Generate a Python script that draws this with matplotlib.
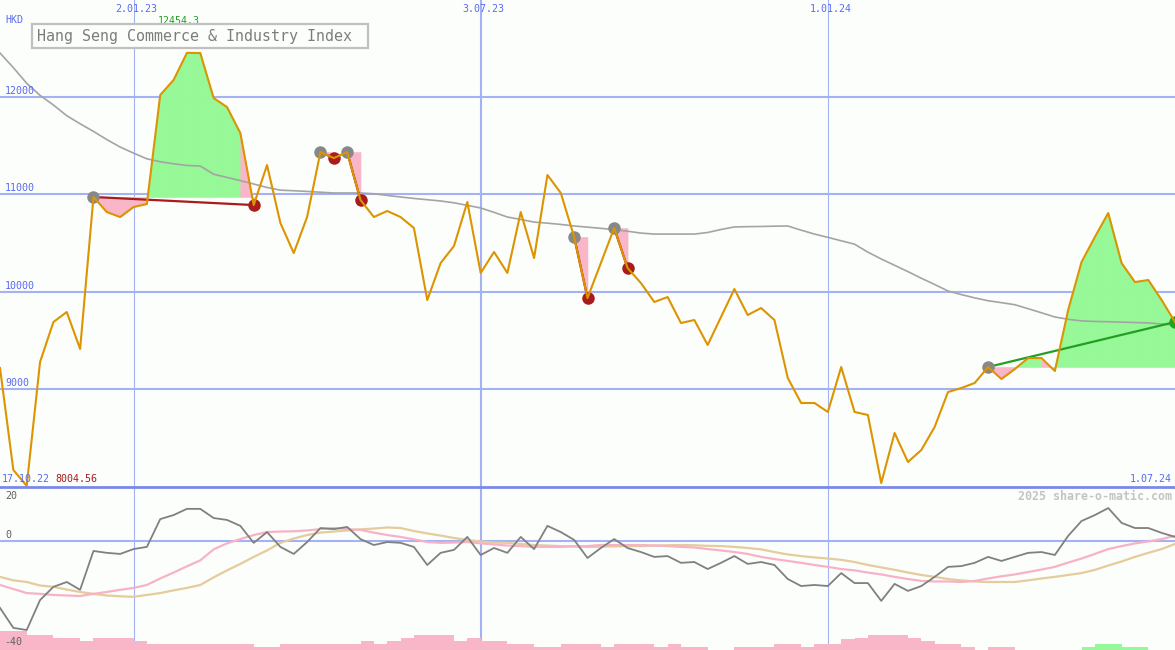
import numpy as np
import pandas as pd
import matplotlib
matplotlib.use("Agg")
from matplotlib import pyplot as plt
from matplotlib.patches import Rectangle
from matplotlib.lines import Line2D

# weekly closes, Hang Seng Commerce & Industry Index (HKD)
dates = pd.date_range("2022-10-24", periods=89, freq="7D")
close = [9216, 8168, 8005, 9277, 9688, 9791, 9411, 10973, 10818, 10767,
         10870, 10901, 12021, 12175, 12454, 12452, 11990, 11897, 11630, 10890,
         11301, 10705, 10397, 10767, 11435, 11373, 11435, 10942, 10767, 10829,
         10767, 10654, 9914, 10294, 10469, 10921, 10192, 10408, 10192, 10818,
         10346, 11199, 11014, 10562, 9935, 10294, 10654, 10243, 10089, 9894,
         9945, 9678, 9709, 9452, 9740, 10027, 9760, 9832, 9709, 9113,
         8856, 8856, 8764, 9226, 8764, 8733, 8034, 8548, 8250, 8373,
         8610, 8969, 9010, 9062, 9226, 9103, 9205, 9318, 9318, 9185,
         9812, 10305, 10562, 10808, 10294, 10099, 10120, 9914, 9688]
ma = [12452, 12302, 12141, 12017, 11918, 11808, 11725, 11647, 11563, 11486,
      11424, 11365, 11335, 11314, 11297, 11291, 11207, 11174, 11141, 11106,
      11071, 11043, 11037, 11030, 11022, 11014, 11014, 11014, 11006, 10989,
      10973, 10958, 10945, 10932, 10913, 10887, 10860, 10815, 10767, 10742,
      10715, 10704, 10691, 10675, 10663, 10651, 10637, 10621, 10602, 10592,
      10592, 10592, 10592, 10608, 10639, 10665, 10668, 10670, 10673, 10675,
      10632, 10592, 10558, 10523, 10488, 10406, 10336, 10271, 10206, 10138,
      10074, 10007, 9970, 9936, 9907, 9887, 9866, 9825, 9783, 9740,
      9716, 9700, 9694, 9691, 9687, 9683, 9679, 9668, 9657]

# trades: (entry week, exit week)
trades = [(7, 19), (24, 25), (26, 27), (43, 44), (46, 47), (74, 88)]

# lower panel oscillator
osc = [-24.8, -32.2, -33.0, -21.9, -17.0, -15.2, -18.1, -3.7, -4.4, -4.8,
       -3.0, -2.2, 8.1, 9.6, 11.9, 11.9, 8.5, 7.8, 5.6, -0.7,
       3.3, -2.2, -4.8, -0.4, 4.8, 4.4, 5.2, 0.7, -1.5, -0.4,
       -0.7, -2.2, -8.9, -4.4, -3.3, 1.5, -5.2, -2.6, -4.4, 1.5,
       -3.0, 5.6, 3.3, 0.4, -6.3, -2.6, 0.7, -2.6, -4.1, -5.9,
       -5.6, -8.1, -7.8, -10.4, -8.1, -5.6, -8.5, -7.8, -8.9, -14.1,
       -16.7, -16.3, -16.7, -11.9, -15.6, -15.6, -22.2, -15.9, -18.5, -16.7,
       -13.3, -9.6, -9.3, -8.1, -5.9, -7.4, -5.9, -4.4, -4.1, -5.2,
       1.9, 7.4, 9.6, 12.2, 6.7, 4.8, 4.8, 3.0, 1.5]
sig_fast = [-16.3, -17.8, -19.3, -19.6, -20.0, -20.2, -20.4, -19.6, -18.9, -18.1,
            -17.4, -16.3, -13.9, -11.7, -9.4, -7.2, -3.1, -0.9, 0.7, 2.2,
            3.3, 3.5, 3.6, 3.9, 4.4, 4.8, 4.4, 4.1, 3.1, 2.2,
            1.5, 0.6, -0.4, -0.7, -0.6, -0.4, -0.9, -1.3, -1.7, -1.9,
            -2.2, -2.2, -2.2, -2.0, -1.9, -1.5, -1.5, -1.5, -1.5, -1.7,
            -1.9, -2.2, -2.4, -3.0, -3.5, -4.1, -4.8, -5.9, -6.7, -7.4,
            -8.1, -8.9, -9.6, -10.4, -10.9, -11.7, -12.4, -13.3, -14.1, -14.8,
            -15.0, -15.0, -15.2, -14.8, -13.9, -13.1, -12.4, -11.5, -10.6, -9.6,
            -8.0, -6.5, -4.8, -3.0, -1.9, -0.9, -0.2, 0.7, 1.9]
sig_slow = [-13.3, -14.6, -15.2, -16.5, -17.0, -18.0, -18.9, -19.6, -20.2, -20.5,
            -20.7, -20.0, -19.3, -18.3, -17.4, -16.3, -13.5, -10.9, -8.5, -5.9,
            -3.5, -0.7, 0.9, 2.2, 3.1, 3.5, 3.9, 4.3, 4.6, 5.0,
            4.8, 3.7, 2.8, 2.0, 1.1, 0.4, -0.2, -0.6, -0.7, -1.1,
            -1.5, -1.7, -1.9, -2.0, -2.2, -2.1, -2.0, -1.9, -1.9, -1.7,
            -1.6, -1.5, -1.6, -1.8, -1.9, -2.2, -2.6, -3.1, -4.1, -5.0,
            -5.6, -6.1, -6.5, -7.0, -7.8, -8.9, -9.8, -10.7, -11.7, -12.6,
            -13.3, -14.1, -14.6, -15.0, -15.2, -15.2, -15.2, -14.6, -13.9, -13.3,
            -12.6, -11.9, -10.7, -9.1, -7.6, -5.9, -4.4, -3.0, -1.1]
bars = [7.0, 7.0, 5.6, 5.6, 4.4, 4.4, 3.3, 4.4, 4.4, 4.4,
        3.3, 2.2, 2.2, 2.2, 2.2, 2.2, 2.2, 2.2, 2.2, 1.1,
        1.1, 2.2, 2.2, 2.2, 2.2, 2.2, 2.2, 3.3, 2.2, 3.3,
        4.3, 5.6, 5.6, 5.6, 3.3, 4.6, 3.3, 3.3, 2.2, 2.2,
        1.2, 1.2, 2.2, 2.2, 2.2, 1.2, 2.2, 2.2, 2.2, 1.2,
        2.2, 1.2, 1.2, 0, 0, 1.2, 1.2, 1.2, 2.2, 2.2,
        1.2, 2.2, 2.2, 3.9, 4.3, 5.6, 5.6, 5.6, 4.3, 3.4,
        2.2, 2.2, 1.0, 0, 1.0, 1.0, 0, 0, 0, 0,
        0, 1.0, 2.2, 2.2, 1.0, 1.0, 0, 0]
bar_gain = [i >= 81 for i in range(len(bars))]

grid_dates = ["2023-01-02", "2023-07-03", "2024-01-01"]
grid_labels = ["2.01.23", "3.07.23", "1.01.24"]
grid_widths = [0.8, 1.5, 0.8]
price_levels = [9000, 10000, 11000, 12000]

BG = "#fcfefc"
GRID = "#a3b2f2"
BLUE = "#5a6af0"
ORANGE = "#dc9400"
PINK = "#f9b6c9"
GREEN = "#96f896"
RED = "#a81c1c"
DGREEN = "#22a022"

W, H = 1175, 650
fig = plt.figure(figsize=(W / 100, H / 100), dpi=100, facecolor=BG)


def fx(x):
    return x / W


def fy(y):
    return 1 - y / H


ax = fig.add_axes([0, fy(487), 1, 487 / H], facecolor=BG)
ax2 = fig.add_axes([0, 0, 1, fy(487)], facecolor=BG)
for a in (ax, ax2):
    a.set_xlim(dates[0], dates[-1])
    a.axis("off")
ax.set_ylim(7993, 12997)
ax2.set_ylim(-40.4, 20.0)

# grid
for lv in price_levels:
    ax.axhline(lv, color=GRID, lw=1.5, zorder=1)
for d, w in zip(grid_dates, grid_widths):
    ax.axvline(pd.Timestamp(d), color=GRID, lw=w, zorder=1)
    ax2.axvline(pd.Timestamp(d), color=GRID, lw=w, zorder=1)
ax2.axhline(0, color=GRID, lw=1.5, zorder=1)

# trade fills
close_a = np.array(close, dtype=float)
for e, x in trades:
    lvl = close_a[e]
    for k in range(e, x):
        col = GREEN if close_a[k + 1] > lvl else PINK
        ax.fill_between(dates[k:k + 2], close_a[k:k + 2], lvl, facecolor=col,
                        edgecolor=col, lw=0.4, zorder=2)

ax.plot(dates, ma, color="#a4a4a4", lw=1.2, zorder=3)

for e, x in trades:
    win = close_a[x] > close_a[e]
    col = DGREEN if win else RED
    ax.plot([dates[e], dates[x]], [close_a[e], close_a[x]], color=col, lw=1.6, zorder=4)
    ax.plot(dates[e], close_a[e], "o", color="#888888", ms=9, mec="none", zorder=5)
    ax.plot(dates[x], close_a[x], "o", color=col, ms=9, mec="none", zorder=5)

ax.plot(dates, close, color=ORANGE, lw=1.5, zorder=6)

# lower panel
ax2.bar(dates[:-1], bars, width=7, align="edge", bottom=-40.4,
        color=[GREEN if g else PINK for g in bar_gain], lw=0, zorder=1)
ax2.plot(dates, sig_slow, color="#e4cc9c", lw=1.6, zorder=2)
ax2.plot(dates, sig_fast, color="#f8b2c8", lw=1.6, zorder=3)
ax2.plot(dates, osc, color="#808080", lw=1.3, zorder=4)

# separator
fig.add_artist(Line2D([0, 1], [fy(487), fy(487)], color="#7b88ea", lw=2))

# texts
mono = "DejaVu Sans Mono"
fs = 7.2
fig.text(fx(5), fy(20), "HKD", color=BLUE, fontsize=fs, family=mono, va="center")
for d, lab in zip(grid_dates, grid_labels):
    xd = ax.transData.transform((matplotlib.dates.date2num(pd.Timestamp(d)), 0))[0]
    fig.text(fx(xd + 3), fy(9), lab, color=BLUE, fontsize=fs, family=mono, ha="center", va="center")
for lv in price_levels:
    yd = ax.transData.transform((0, lv))[1]
    fig.text(fx(5), (yd + 6) / H, str(lv), color=BLUE, fontsize=fs, family=mono, va="center")
fig.text(fx(179), fy(21), "12454.3", color=DGREEN, fontsize=fs, family=mono, ha="center", va="center")
fig.text(fx(2), fy(479), "17.10.22", color=BLUE, fontsize=fs, family=mono, va="center")
fig.text(fx(55), fy(479), "8004.56", color=RED, fontsize=fs, family=mono, va="center")
fig.text(fx(1172), fy(479), "1.07.24", color=BLUE, fontsize=fs, family=mono, ha="right", va="center")
fig.text(fx(1172), fy(496.5), "2025 share-o-matic.com", color="#c4c4c4", fontsize=8.4,
         family=mono, weight="bold", ha="right", va="center")
fig.text(fx(5), fy(496), "20", color="#606060", fontsize=fs, family=mono, va="center")
fig.text(fx(5), fy(535.5), "0", color="#606060", fontsize=fs, family=mono, va="center")
fig.text(fx(4), fy(642), "-40", color="#606060", fontsize=fs, family=mono, va="center")

# title box
fig.add_artist(Rectangle((fx(32), fy(48)), (368 - 32) / W, 24 / H, fc=BG, ec="#c0c0c0", lw=1.6,
                         transform=fig.transFigure, zorder=10))
fig.text(fx(37), fy(36), "Hang Seng Commerce & Industry Index", color="#7c7c7c", fontsize=10.8,
         family=mono, va="center", zorder=11)

fig.savefig("out.png", dpi=100, facecolor=BG)
